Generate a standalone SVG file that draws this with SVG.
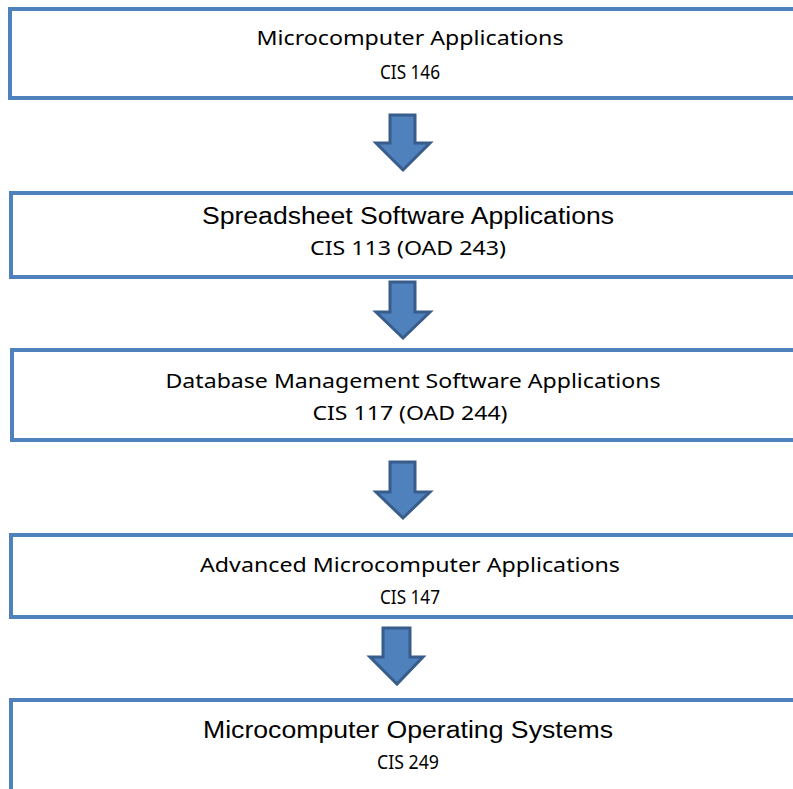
<svg xmlns="http://www.w3.org/2000/svg" width="793" height="789" viewBox="0 0 793 789">
<style>
.box{fill:#ffffff;stroke:#4f81bd;stroke-width:4}
.arr{fill:#4f81bd;stroke:#385d8a;stroke-width:3;stroke-linejoin:miter}
.c{font-family:"Noto Sans","Open Sans",sans-serif;font-size:20px;fill:#000;text-anchor:middle}
.a{font-family:"Liberation Sans",Arial,sans-serif;font-size:23px;fill:#000;text-anchor:middle}
</style>
<rect width="793" height="789" fill="#ffffff"/>
<g id="node1">
<rect class="box" x="10" y="9" width="800" height="89"/>
<text class="c" x="410" y="45" textLength="307" lengthAdjust="spacingAndGlyphs">Microcomputer Applications</text>
<text class="c" x="410" y="79" textLength="60" lengthAdjust="spacingAndGlyphs">CIS 146</text>
</g>
<g id="node2">
<rect class="box" x="11" y="193" width="800" height="84"/>
<text class="a" x="408" y="224" textLength="412" lengthAdjust="spacingAndGlyphs">Spreadsheet Software Applications</text>
<text class="c" x="408" y="255" textLength="196" lengthAdjust="spacingAndGlyphs">CIS 113 (OAD 243)</text>
</g>
<g id="node3">
<rect class="box" x="12" y="350" width="800" height="90"/>
<text class="c" x="413" y="388" textLength="495" lengthAdjust="spacingAndGlyphs">Database Management Software Applications</text>
<text class="c" x="410" y="420" textLength="195" lengthAdjust="spacingAndGlyphs">CIS 117 (OAD 244)</text>
</g>
<g id="node4">
<rect class="box" x="11" y="535" width="800" height="82"/>
<text class="c" x="410" y="572" textLength="420" lengthAdjust="spacingAndGlyphs">Advanced Microcomputer Applications</text>
<text class="c" x="410" y="604" textLength="60" lengthAdjust="spacingAndGlyphs">CIS 147</text>
</g>
<g id="node5">
<rect class="box" x="11" y="700" width="800" height="120"/>
<text class="a" x="408" y="738" textLength="410" lengthAdjust="spacingAndGlyphs">Microcomputer Operating Systems</text>
<text class="c" x="408" y="769" textLength="62" lengthAdjust="spacingAndGlyphs">CIS 249</text>
</g>
<g id="connectors">
<path class="arr" d="M390,115 H415 V143 H430 L403,170 L376,143 H390 Z"/>
<path class="arr" d="M390,282 H415 V312 H430 L403,338 L376,312 H390 Z"/>
<path class="arr" d="M390,462 H415 V492 H430 L403,518 L376,492 H390 Z"/>
<path class="arr" d="M383,628 H410 V657 H423 L397,684 L370,657 H383 Z"/>
</g>
</svg>
